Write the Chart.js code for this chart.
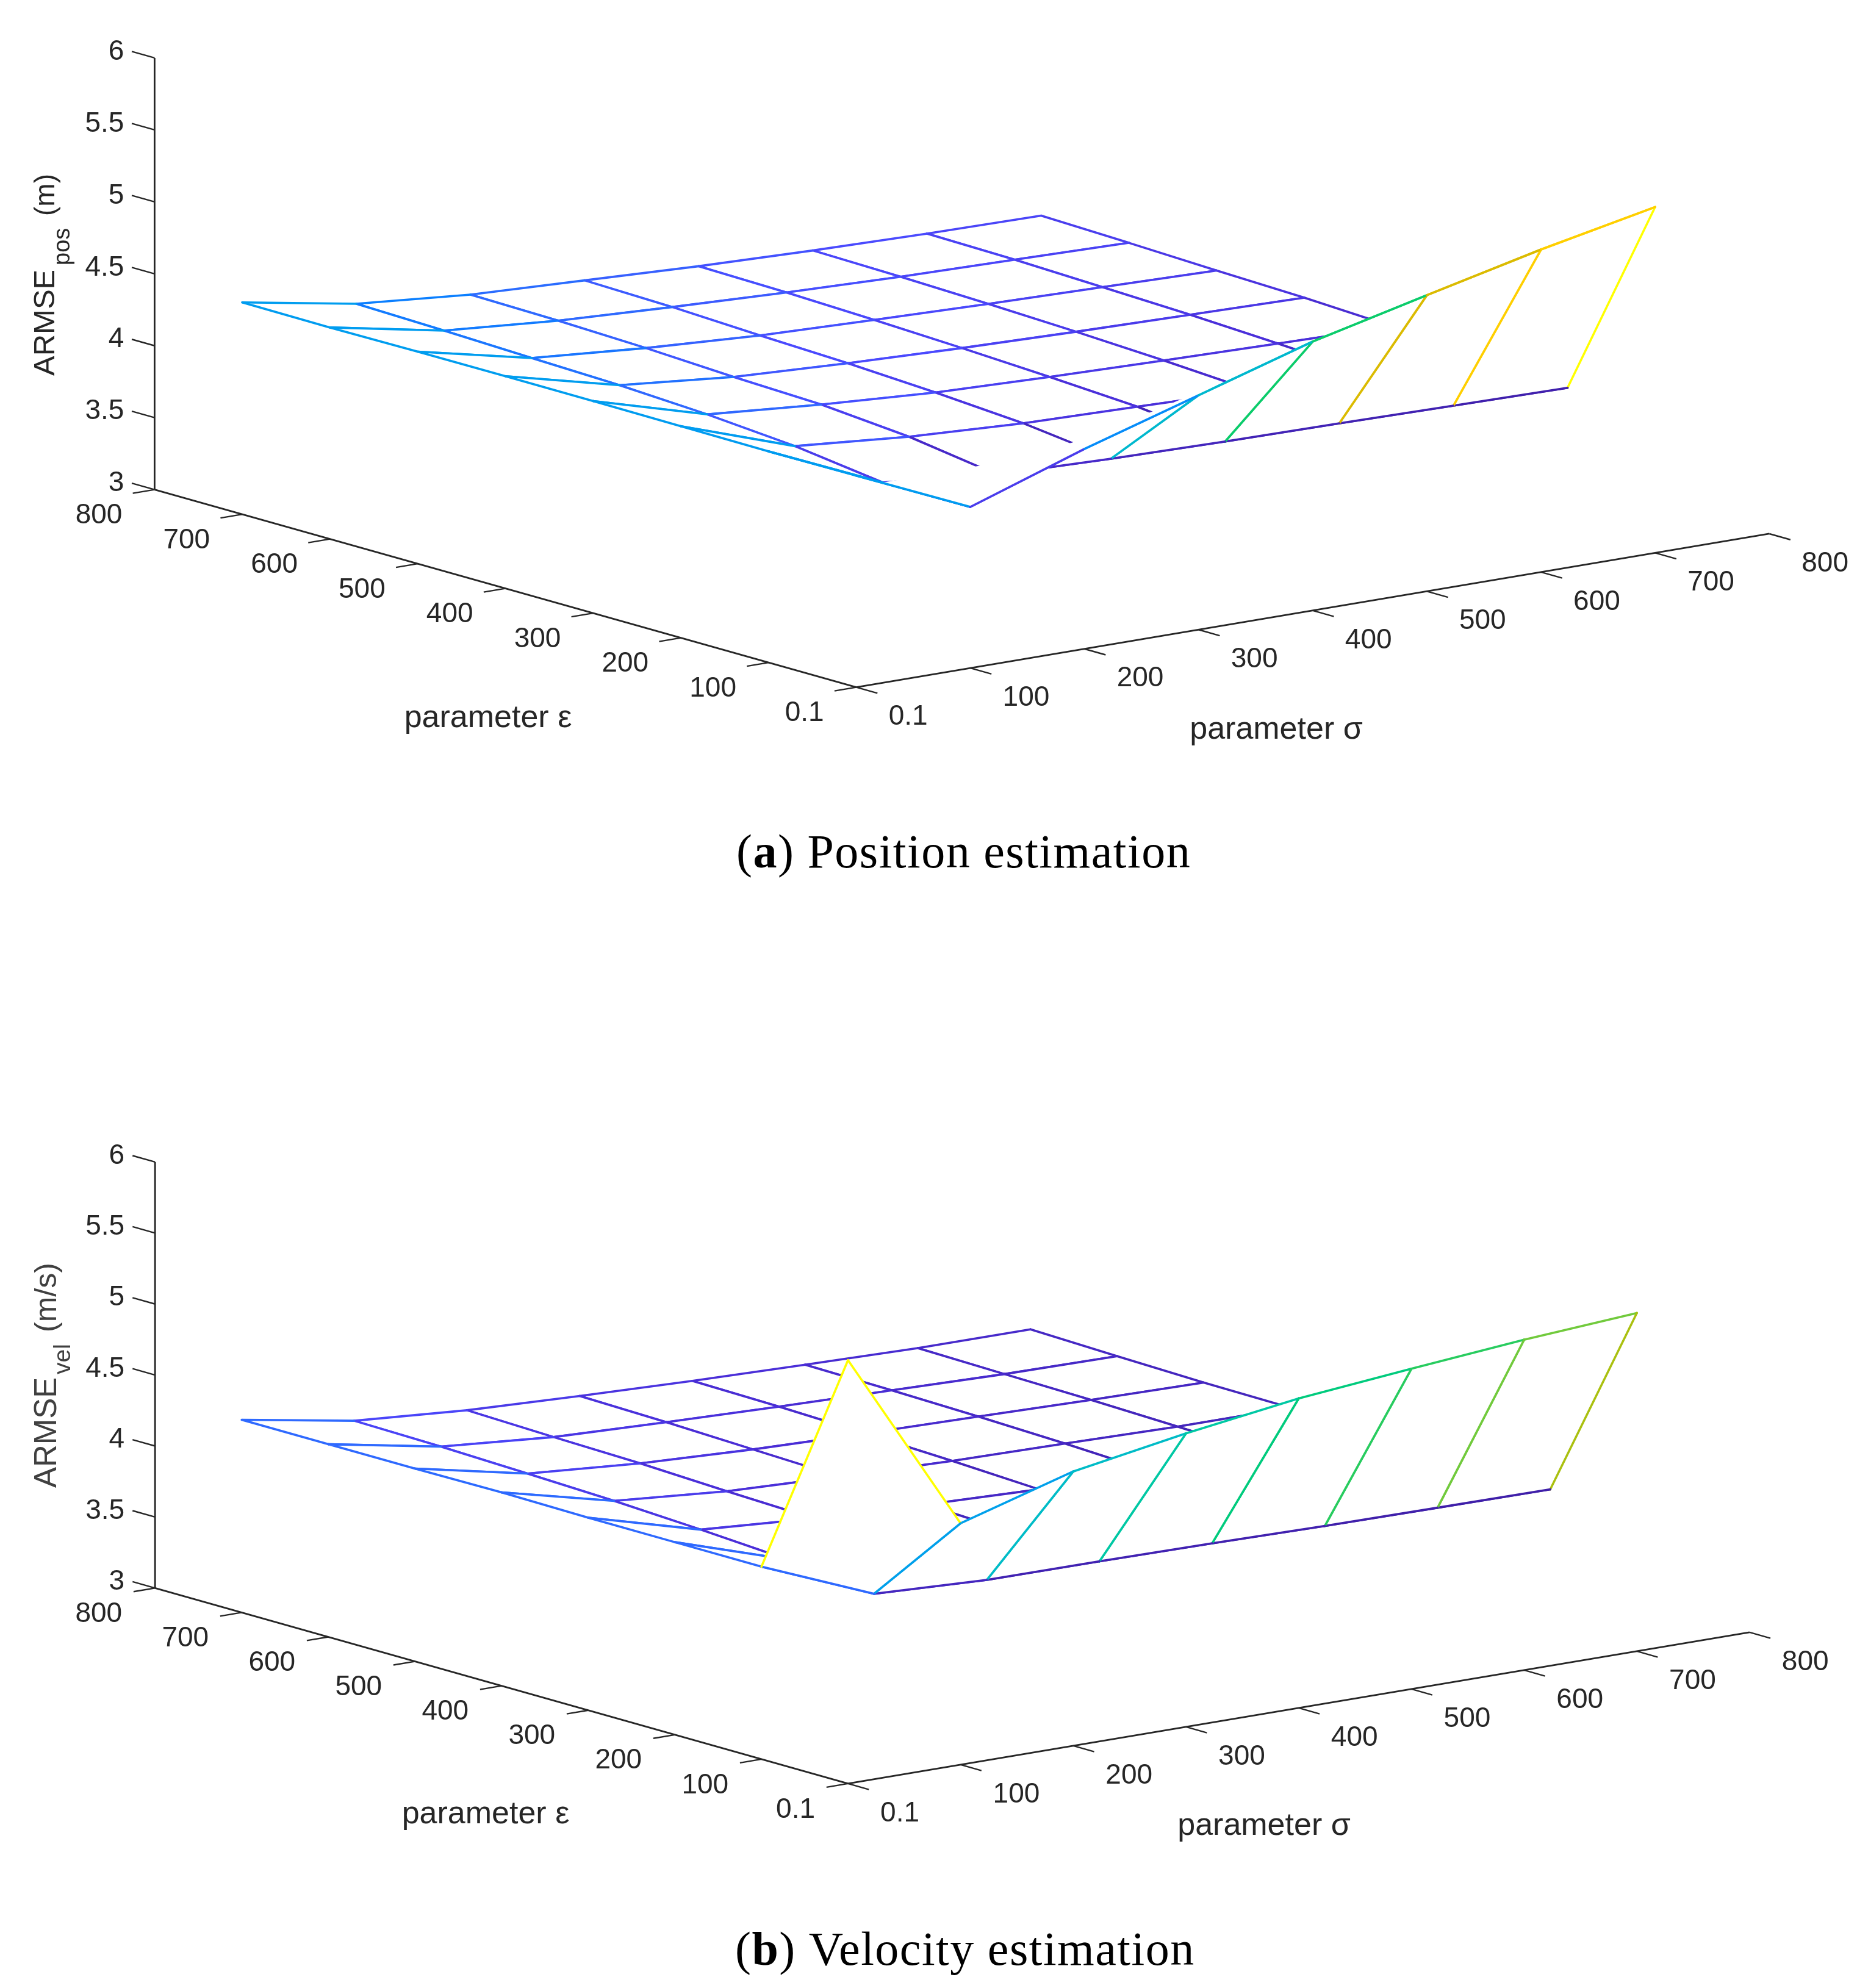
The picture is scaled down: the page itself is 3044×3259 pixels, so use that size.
<!DOCTYPE html>
<html>
<head>
<meta charset="utf-8">
<title>ARMSE sensitivity to parameters</title>
<script src="https://cdn.jsdelivr.net/npm/chart.js@4/dist/chart.umd.min.js"></script>
<style>
html,body{margin:0;padding:0;background:#fff;}
canvas{display:block;}
</style>
</head>
<body>
<canvas id="chartA" width="3044" height="1630"></canvas>
<canvas id="chartB" width="3044" height="1629"></canvas>
<script>
// ---------- grid and tick values ----------
const sigmaValues   = [0.1, 100, 200, 300, 400, 500, 600, 700];
const epsilonValues = [0.1, 100, 200, 300, 400, 500, 600, 700];
const sigmaTicks    = [0.1, 100, 200, 300, 400, 500, 600, 700, 800];
const epsilonTicks  = [0.1, 100, 200, 300, 400, 500, 600, 700, 800];
const armseTicks    = [3, 3.5, 4, 4.5, 5, 5.5, 6];

// ---------- (a) ARMSE position: one list per epsilon, read along sigma ----------
const posEps0   = [4.470, 4.120, 4.390, 4.630, 4.869, 5.058, 5.242, 5.404];
const posEps100 = [4.467, 4.118, 4.040, 4.017, 4.003, 3.996, 3.985, 3.976];
const posEps200 = [4.471, 4.199, 4.131, 4.091, 4.073, 4.053, 4.040, 4.030];
const posEps300 = [4.474, 4.248, 4.183, 4.133, 4.108, 4.089, 4.073, 4.060];
const posEps400 = [4.475, 4.279, 4.203, 4.165, 4.137, 4.117, 4.102, 4.087];
const posEps500 = [4.474, 4.296, 4.232, 4.186, 4.161, 4.139, 4.122, 4.104];
const posEps600 = [4.470, 4.315, 4.251, 4.212, 4.180, 4.156, 4.141, 4.125];
const posEps700 = [4.473, 4.330, 4.260, 4.226, 4.191, 4.167, 4.151, 4.142];

// ---------- (b) ARMSE velocity: one list per epsilon, read along sigma ----------
const velEps0   = [5.982, 4.700, 4.932, 5.067, 5.180, 5.256, 5.327, 5.382];
const velEps100 = [4.356, 4.032, 3.996, 3.994, 3.988, 3.977, 3.972, 3.968];
const velEps200 = [4.356, 4.101, 4.054, 4.025, 4.006, 3.997, 3.993, 3.989];
const velEps300 = [4.356, 4.139, 4.085, 4.049, 4.023, 4.015, 4.006, 4.006];
const velEps400 = [4.362, 4.169, 4.104, 4.074, 4.051, 4.040, 4.026, 4.026];
const velEps500 = [4.358, 4.189, 4.128, 4.093, 4.072, 4.058, 4.042, 4.031];
const velEps600 = [4.357, 4.207, 4.141, 4.113, 4.089, 4.071, 4.052, 4.045];
const velEps700 = [4.357, 4.217, 4.158, 4.125, 4.098, 4.079, 4.063, 4.062];

// hidden-surface outline in (a): the face behind the rising front strip
// hides the mesh up to this line (sigma, epsilon, ARMSE)
const posHiddenSigma = [100, 185, 265.8, 334.7, 398.8, 300, 200, 100];
const posHiddenEps   = [100, 100, 100, 100, 100, 0.1, 0.1, 0.1];
const posHiddenArmse = [4.118, 4.121, 4.173, 4.294, 4.423, 4.630, 4.390, 4.120];

const posGrid = [posEps0,posEps100,posEps200,posEps300,posEps400,posEps500,posEps600,posEps700];
const velGrid = [velEps0,velEps100,velEps200,velEps300,velEps400,velEps500,velEps600,velEps700];

// ---------- colour map ----------
const colorStops = [
 [0,[63,31,168]],[0.065,[74,46,216]],[0.135,[74,74,255]],[0.19,[48,104,255]],
 [0.25,[10,128,255]],[0.346,[0,156,240]],[0.476,[0,188,200]],[0.54,[0,200,168]],
 [0.62,[0,204,112]],[0.67,[102,204,68]],[0.70,[168,192,16]],[0.76,[221,187,0]],
 [0.88,[255,204,0]],[1,[255,255,0]]
];
function colormap(t){
  t=Math.max(0,Math.min(1,t));
  for(let i=1;i<colorStops.length;i++){
    if(t<=colorStops[i][0]){
      const a=colorStops[i-1],b=colorStops[i],f=(t-a[0])/(b[0]-a[0]);
      const c=a[1].map((v,k)=>Math.round(v+(b[1][k]-v)*f));
      return `rgb(${c[0]},${c[1]},${c[2]})`;
    }
  }
  return 'rgb(255,255,0)';
}

const AXIS_COLOR='#262626';
const SANS='"Liberation Sans", Arial, sans-serif';
const SERIF='"Liberation Serif", "Times New Roman", serif';

function buildChart(canvasId, grid, view){
  const project=(s,e,z)=>({
    x: view.ox + s/100*view.sx + e/100*view.ex,
    y: view.oy + s/100*view.sy + e/100*view.ey - (z-3)*view.zu
  });
  const all=grid.flat();
  const zMin=Math.min(...all), zMax=Math.max(...all);
  const col=z=>colormap((z-zMin)/(zMax-zMin));

  const datasets=[];
  const meshLine={showLine:true,pointRadius:0,borderWidth:3.6,tension:0,borderCapStyle:'round',borderJoinStyle:'round'};

  // the library paints the first dataset last, so the topmost things come first
  if(view.hidden){
    const rowColors=grid[0].map(col);
    datasets.push(Object.assign({},meshLine,{
      data:sigmaValues.map((s,i)=>project(s,epsilonValues[0],grid[0][i])),
      borderColor:rowColors[0],
      segment:{borderColor:c=>rowColors[c.p0DataIndex]}
    }));
    datasets.push({
      data:view.hidden.sigma.map((s,i)=>project(s,view.hidden.eps[i],view.hidden.armse[i])),
      showLine:true,isCell:true,pointRadius:0,borderWidth:0,borderColor:'#ffffff',tension:0
    });
  }
  for(let j=0;j<epsilonValues.length-1;j++){
    for(let i=0;i<sigmaValues.length-1;i++){
      const pts=[[i,j],[i+1,j],[i+1,j+1],[i,j+1],[i,j]]
        .map(([a,b])=>project(sigmaValues[a],epsilonValues[b],grid[b][a]));
      const edgeColors=[col(grid[j][i]),col(grid[j][i+1]),col(grid[j+1][i]),col(grid[j][i])];
      datasets.push(Object.assign({},meshLine,{
        data:pts,isCell:true,borderColor:edgeColors[0],
        segment:{borderColor:c=>edgeColors[c.p0DataIndex]}
      }));
    }
  }
  const axisLine=(a,b,w)=>datasets.push({
    data:[project(...a),project(...b)], showLine:true, pointRadius:0,
    borderWidth:w, borderColor:AXIS_COLOR, tension:0
  });
  axisLine([0.1,0.1,3],[800,0.1,3],2.8);
  axisLine([0.1,0.1,3],[0.1,800,3],2.8);
  axisLine([0.1,800,3],[0.1,800,6],2.8);
  sigmaTicks.forEach(v=>axisLine([v,0.1,3],[v,-24,3],2.4));
  epsilonTicks.forEach(v=>axisLine([0.1,v,3],[-19,v,3],2.4));
  armseTicks.forEach(v=>axisLine([0.1,800,v],[0.1,826,v],2.4));

  const whiteCells={
    id:'whiteCells',
    beforeDatasetDraw(chart,args){
      if(!chart.data.datasets[args.index].isCell) return;
      const ctx=chart.ctx, p=args.meta.data;
      ctx.save();
      ctx.beginPath();
      p.forEach((q,k)=>k?ctx.lineTo(q.x,q.y):ctx.moveTo(q.x,q.y));
      ctx.closePath();
      ctx.fillStyle='#ffffff';
      ctx.fill();
      ctx.restore();
    }
  };
  const texts={
    id:'texts',
    afterDraw(chart){
      const ctx=chart.ctx, X=chart.scales.x, Y=chart.scales.y;
      const put=(t,x,y,font,align,base,color)=>{
        ctx.font=font; ctx.textAlign=align; ctx.textBaseline=base; ctx.fillStyle=color||AXIS_COLOR;
        ctx.fillText(t,X.getPixelForValue(x),Y.getPixelForValue(y));
      };
      ctx.save();
      const tick='46px '+SANS;
      sigmaTicks.forEach(v=>{const p=project(v,0.1,3);put(String(v),p.x+view.sLabelDx,p.y+49,tick,'left','middle');});
      epsilonTicks.forEach(v=>{const p=project(0.1,v,3);put(String(v),p.x-view.eLabelDx,p.y+43,tick,'right','middle');});
      armseTicks.forEach(v=>{const p=project(0.1,800,v);put(String(v),p.x-50,p.y-10,tick,'right','middle');});
      put('parameter ε',view.eName[0],view.eName[1],'52px '+SANS,'center','middle');
      put('parameter σ',view.sName[0],view.sName[1],'52px '+SANS,'center','middle');

      // rotated z-axis title
      view.zTitle.forEach(t=>{
        ctx.save();
        ctx.translate(X.getPixelForValue(t.x),Y.getPixelForValue(t.y));
        ctx.rotate(-Math.PI/2);
        ctx.font=t.size+'px '+SANS; ctx.textAlign='left'; ctx.textBaseline='alphabetic';
        ctx.fillStyle=view.zColor;
        ctx.fillText(t.text,0,0);
        ctx.restore();
      });

      // caption
      let cx=view.capX;
      view.caption.forEach(c=>{
        ctx.font=(c.bold?'bold ':'')+view.capSize+'px '+SERIF;
        ctx.letterSpacing='1.5px';
        ctx.textAlign='left'; ctx.textBaseline='alphabetic'; ctx.fillStyle='#000';
        ctx.fillText(c.text,X.getPixelForValue(cx),Y.getPixelForValue(view.capY));
        cx+=ctx.measureText(c.text).width;
      });
      ctx.letterSpacing='0px';
      ctx.restore();
    }
  };

  return new Chart(document.getElementById(canvasId),{
    type:'scatter',
    data:{datasets},
    options:{
      responsive:false, animation:false, maintainAspectRatio:false,
      layout:{padding:0},
      events:[],
      plugins:{legend:{display:false},tooltip:{enabled:false},title:{display:false}},
      scales:{
        x:{type:'linear',display:false,min:0,max:3044},
        y:{type:'linear',display:false,min:view.top,max:view.bottom,reverse:true}
      }
    },
    plugins:[whiteCells,texts]
  });
}

buildChart('chartA',posGrid,{
  top:0,bottom:1630,
  ox:1403.6,oy:1126.7,sx:187.1,sy:-31.46,ex:-143.8,ey:-40.5,zu:235.9,
  sLabelDx:53,eLabelDx:53,
  eName:[800,1178],sName:[2092,1197],
  zColor:'#262626',
  zTitle:[{text:'ARMSE',x:89,y:616,size:49},{text:'pos',x:114,y:435,size:38},{text:'(m)',x:89,y:354,size:46}],
  caption:[{text:'('},{text:'a',bold:true},{text:') Position estimation'}],
  capX:1207,capY:1422,capSize:78,
  hidden:{sigma:posHiddenSigma,eps:posHiddenEps,armse:posHiddenArmse}
});
buildChart('chartB',velGrid,{
  top:1630,bottom:3259,
  ox:1390,oy:2924,sx:184.75,sy:-31,ex:-142,ey:-40.08,zu:232.8,
  sLabelDx:53,eLabelDx:54,
  eName:[796,2975],sName:[2072,2994],
  zColor:'#404040',
  zTitle:[{text:'ARMSE',x:92,y:2439,size:51},{text:'vel',x:115,y:2253,size:39},{text:'(m/s)',x:92,y:2184,size:50}],
  caption:[{text:'('},{text:'b',bold:true},{text:') Velocity estimation'}],
  capX:1205,capY:3221,capSize:78
});
</script>
</body>
</html>
